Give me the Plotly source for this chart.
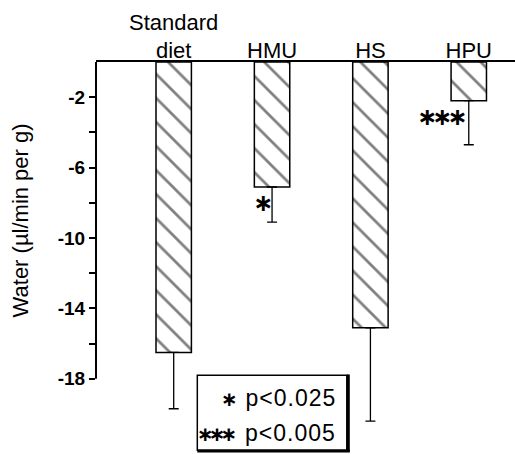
import plotly.graph_objects as go

categories = ["Standard<br>diet", "HMU", "HS", "HPU"]
water = [-16.5, -7.1, -15.1, -2.2]
error_minus = [3.2, 2.0, 5.3, 2.5]
y_tick_vals = [-2, -6, -10, -14, -18]
y_tick_text = ["-2", "-6", "-10", "-14", "-18"]
y_minor_vals = [-4, -8, -12, -16]
legend_lines = ["∗ p<0.025", "∗∗∗ p<0.005"]

FONT = "Liberation Sans, Arial, Helvetica, sans-serif"

fig = go.Figure()
fig.add_trace(go.Bar(
    x=categories, y=water, width=0.36,
    marker=dict(color="white", line=dict(color="black", width=1.5),
                pattern=dict(shape="\\", fgcolor="black", bgcolor="white",
                             size=17, solidity=0.16)),
    error_y=dict(type="data", symmetric=False, array=[0, 0, 0, 0],
                 arrayminus=error_minus, color="black", thickness=1.3, width=5),
    showlegend=False,
))

annotations = []
# y-axis title centred on the drawn axis (0 to -18)
annotations.append(dict(x=0, xref="paper", xshift=-76, xanchor="center", y=-9.0, yref="y",
                        text="Water (µl/min per g)", textangle=-90, showarrow=False,
                        font=dict(size=22, family=FONT, color="black")))
# significance marks beside bars
annotations.append(dict(x=0.905, y=-8.0, xref="x", yref="y", text="<b>∗</b>",
                        showarrow=False, font=dict(size=24, family="DejaVu Sans", color="black")))
annotations.append(dict(x=2.72, y=-3.1, xref="x", yref="y",
                        text="<b><span style='letter-spacing:-5px'>∗∗∗</span></b>",
                        showarrow=False, font=dict(size=24, family="DejaVu Sans", color="black")))
# legend text
for line, yv in zip(legend_lines, [-19.1, -21.1]):
    stars, ptxt = line.split(" ")
    annotations.append(dict(x=1.67, y=yv, xref="x", yref="y", xanchor="right",
                            text=(f"<b><span style='font-family:DejaVu Sans;font-size:20px;"
                                  f"letter-spacing:-5px'>{stars}</span></b>&nbsp;&nbsp;"
                                  f"<span style='letter-spacing:1px'>{ptxt}</span>"),
                            showarrow=False, font=dict(size=23, family=FONT, color="black")))

shapes = [
    # y axis line from 0 to -18
    dict(type="line", xref="paper", x0=0, x1=0, yref="y", y0=0, y1=-18,
         line=dict(color="black", width=2)),
    # legend box
    dict(type="rect", xref="x", yref="y", x0=0.24, x1=1.76, y0=-17.8, y1=-22.05,
         line=dict(color="black", width=1.5), fillcolor="white", layer="below"),
    dict(type="line", xref="x", yref="y", x0=1.775, x1=1.775, y0=-17.75, y1=-22.15,
         line=dict(color="black", width=3)),
    dict(type="line", xref="x", yref="y", x0=0.24, x1=1.79, y0=-22.1, y1=-22.1,
         line=dict(color="black", width=3)),
]

fig.update_layout(
    width=515, height=454,
    margin=dict(l=96, r=0, t=62, b=0, autoexpand=False),
    paper_bgcolor="white", plot_bgcolor="white",
    font=dict(family=FONT, color="black"),
    xaxis=dict(side="top", type="category", range=[-0.79, 3.47], automargin=False,
               showline=True, linecolor="black", linewidth=2,
               ticks="", showgrid=False, zeroline=False, ticklabelstandoff=-7,
               tickfont=dict(size=22, family=FONT, color="black")),
    yaxis=dict(range=[-22.27, 0], automargin=False, showline=False, showgrid=False, zeroline=False,
               tickmode="array", tickvals=y_tick_vals, ticktext=y_tick_text,
               ticks="outside", ticklen=6, tickwidth=1.5, tickcolor="black",
               tickfont=dict(size=19, family=FONT, color="black", weight="bold"),
               minor=dict(tickmode="array", tickvals=y_minor_vals, ticks="outside",
                          ticklen=6, tickwidth=1.5, tickcolor="black", showgrid=False)),
    annotations=annotations,
    shapes=shapes,
)

fig.write_html("out.html", config={"displayModeBar": False},
               post_script="document.body.style.margin='0px';")
